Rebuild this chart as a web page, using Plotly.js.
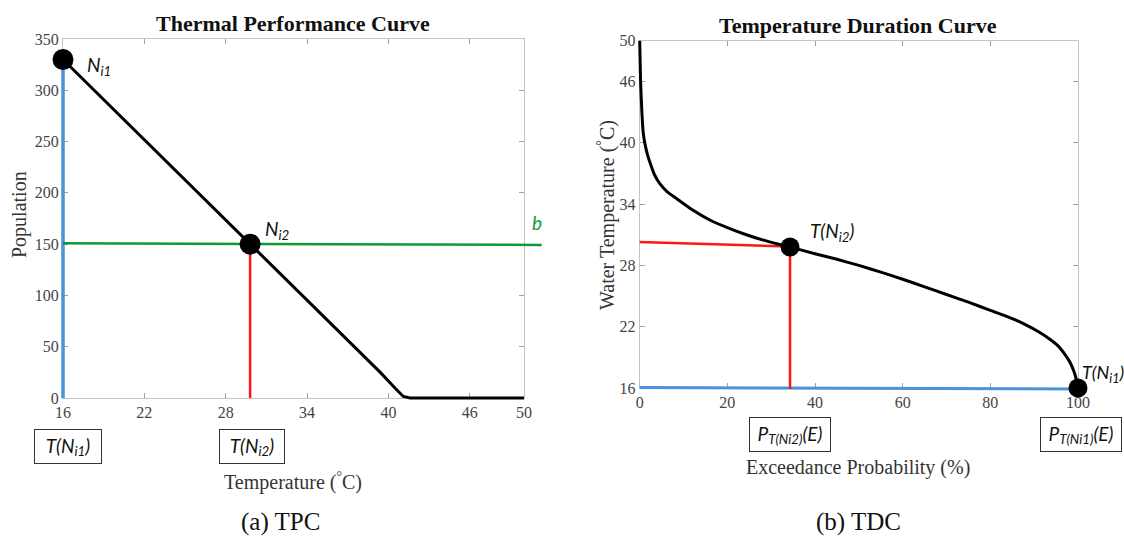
<!DOCTYPE html>
<html><head><meta charset="utf-8">
<script src="https://cdn.plot.ly/plotly-3.0.1.min.js"></script>
<style>html,body{margin:0;padding:0;background:#fff}#chart{width:1124px;height:537px}</style>
</head><body><div id="chart"></div>
<script>
// ---------- Thermal Performance Curve (TPC) data ----------
const tpcTemp = [16, 29.8, 39.4, 40.5, 41.1, 41.6, 50];
const tpcPop  = [330, 150, 25, 9.5, 1.5, 0, 0];
const tpcPointT = [16, 29.8];          // T(Ni1), T(Ni2)
const tpcPointN = [330, 150];          // Ni1, Ni2
const tpcBT = [16, 51.3];              // threshold line b
const tpcBN = [150.8, 149.2];
const tpcXTicks = [16, 22, 28, 34, 40, 46, 50];
const tpcYTicks = [0, 50, 100, 150, 200, 250, 300, 350];

// ---------- Temperature Duration Curve (TDC) data ----------
const tdcProb = [0, 0.2, 0.5, 0.8, 1.2, 1.8, 2.4, 3.4, 4.6, 6.3, 8.4, 12, 16, 20, 24, 28, 34.3, 40, 45, 50, 55, 60, 65, 70, 75, 80, 85, 88, 91, 93.5, 95.5, 97, 98.2, 99.1, 99.7, 100];
const tdcTemp = [50, 46, 43, 41, 39.9, 38.8, 38.0, 36.85, 36.0, 35.2, 34.55, 33.45, 32.45, 31.7, 31.05, 30.5, 29.8, 29.15, 28.6, 28.0, 27.35, 26.65, 25.9, 25.15, 24.4, 23.6, 22.8, 22.2, 21.5, 20.8, 20.1, 19.3, 18.5, 17.6, 16.7, 16];
const tdcPointP = [34.3, 100];         // P_T(Ni2)(E), P_T(Ni1)(E)
const tdcPointT = [29.8, 16];          // T(Ni2), T(Ni1)
const tdcRefP = [0, 34.3];             // red reading line
const tdcRefT = [30.3, 29.85];
const tdcBaseP = [0, 100];             // blue base line
const tdcBaseT = [16.05, 15.9];
const tdcXTicks = [0, 20, 40, 60, 80, 100];
const tdcYTicks = [16, 22, 28, 34, 40, 46, 50];

// ---------- geometry helpers ----------
const W = 1124, H = 537;
const PX = v => v / W;
const PY = v => 1 - v / H;
function xDom(p0, p1, r0, r1, q0, q1) { const s = (p1 - p0) / (r1 - r0); return [PX(p0 + (q0 - r0) * s), PX(p0 + (q1 - r0) * s)]; }
function yDom(p0, p1, r0, r1, q0, q1) { const s = (p1 - p0) / (r1 - r0); return [PY(p0 + (q0 - r0) * s), PY(p0 + (q1 - r0) * s)]; }

const SERIF = 'Liberation Serif, Times New Roman, serif';
const SANS = 'Lato, Carlito, Open Sans, sans-serif';
const BLACK = '#000000', BLUE = '#4a93d6', RED = '#ff1414', GREEN = '#0f9a3a';

// left plot pixel frame
const L = {x0: 63, x1: 524, y0: 398, y1: 39};
// right plot pixel frame
const R = {x0: 639.7, x1: 1078, y0: 388, y1: 40.7};

const frameAxis = (extra) => Object.assign({
  showgrid: false, zeroline: false, showline: true, mirror: 'ticks',
  linecolor: '#c4c4c4', linewidth: 1, ticks: 'inside', ticklen: 5, tickwidth: 1,
  tickcolor: '#a0a0a0', tickmode: 'array', fixedrange: true,
  tickfont: {family: SERIF, size: 16, color: '#444'}
}, extra);
const hiddenAxis = (extra) => Object.assign({
  visible: false, showgrid: false, zeroline: false, fixedrange: true
}, extra);

const traces = [
  // empty traces so the framed axes exist
  {x: [], y: [], xaxis: 'x', yaxis: 'y', type: 'scatter', hoverinfo: 'skip'},
  {x: [], y: [], xaxis: 'x2', yaxis: 'y2', type: 'scatter', hoverinfo: 'skip'},
  // TPC
  {x: [tpcPointT[0], tpcPointT[0]], y: [0, tpcPointN[0]], xaxis: 'x3', yaxis: 'y3', mode: 'lines', line: {color: BLUE, width: 3.5}},
  {x: [tpcPointT[1], tpcPointT[1]], y: [0, tpcPointN[1]], xaxis: 'x3', yaxis: 'y3', mode: 'lines', line: {color: RED, width: 2.5}},
  {x: tpcBT, y: tpcBN, xaxis: 'x3', yaxis: 'y3', mode: 'lines', line: {color: GREEN, width: 2.5}},
  {x: tpcTemp, y: tpcPop, xaxis: 'x3', yaxis: 'y3', mode: 'lines', line: {color: BLACK, width: 3}},
  {x: tpcPointT, y: tpcPointN, xaxis: 'x3', yaxis: 'y3', mode: 'markers', cliponaxis: false, marker: {color: BLACK, size: 21}},
  // TDC
  {x: tdcBaseP, y: tdcBaseT, xaxis: 'x4', yaxis: 'y4', mode: 'lines', line: {color: BLUE, width: 3}},
  {x: tdcRefP, y: tdcRefT, xaxis: 'x4', yaxis: 'y4', mode: 'lines', line: {color: RED, width: 2.5}},
  {x: [tdcPointP[0], tdcPointP[0]], y: [tdcPointT[0], tdcBaseT[1]], xaxis: 'x4', yaxis: 'y4', mode: 'lines', line: {color: RED, width: 2.5}},
  {x: tdcProb, y: tdcTemp, xaxis: 'x4', yaxis: 'y4', mode: 'lines', line: {color: BLACK, width: 3, shape: 'spline', smoothing: 0.5}},
  {x: tdcPointP, y: tdcPointT, xaxis: 'x4', yaxis: 'y4', mode: 'markers', cliponaxis: false, marker: {color: BLACK, size: 19}}
];
traces.forEach(t => { t.showlegend = false; t.hoverinfo = 'skip'; if (!t.type) t.type = 'scatter'; });

const ann = [];
const txt = (o) => ann.push(Object.assign({showarrow: false, xanchor: 'center', yanchor: 'middle'}, o));

// titles
txt({text: '<b>Thermal Performance Curve</b>', xref: 'paper', yref: 'paper', x: PX(293), y: PY(24), font: {family: SERIF, size: 22, color: '#111'}});
txt({text: '<b>Temperature Duration Curve</b>', xref: 'paper', yref: 'paper', x: PX(858), y: PY(26), font: {family: SERIF, size: 22, color: '#111'}});
// axis titles
txt({text: 'Population', xref: 'paper', yref: 'paper', x: PX(19), y: PY(215), textangle: -90, font: {family: SERIF, size: 20, color: '#333'}});
txt({text: 'Temperature (<sup>°</sup>C)', xref: 'paper', yref: 'paper', x: PX(293), y: PY(481), font: {family: SERIF, size: 20, color: '#333'}});
txt({text: 'Water Temperature (<sup>°</sup>C)', xref: 'paper', yref: 'paper', x: PX(606), y: PY(215), textangle: -90, font: {family: SERIF, size: 20, color: '#333'}});
txt({text: 'Exceedance Probability (%)', xref: 'paper', yref: 'paper', x: PX(858), y: PY(467), font: {family: SERIF, size: 20, color: '#333'}});
// captions
txt({text: '(a) TPC', xref: 'paper', yref: 'paper', x: PX(280), y: PY(522), font: {family: SERIF, size: 25, color: '#111'}});
txt({text: '(b) TDC', xref: 'paper', yref: 'paper', x: PX(858), y: PY(522), font: {family: SERIF, size: 25, color: '#111'}});
// point labels
const lab = {family: SANS, size: 19, color: '#111'};
txt({text: '<i>N<sub>i1</sub></i>', xref: 'x', yref: 'y', x: tpcPointT[0], y: tpcPointN[0], xanchor: 'left', xshift: 22, yshift: -6, font: lab});
txt({text: '<i>N<sub>i2</sub></i>', xref: 'x', yref: 'y', x: tpcPointT[1], y: tpcPointN[1], xanchor: 'left', xshift: 13, yshift: 14, font: lab});
txt({text: '<i>b</i>', xref: 'x', yref: 'y', x: tpcXTicks[tpcXTicks.length - 1], y: tpcBN[1], xshift: 13, yshift: 22, font: {family: SANS, size: 19, color: GREEN}});
txt({text: '<i>T(N<sub>i2</sub>)</i>', xref: 'x2', yref: 'y2', x: tdcPointP[0], y: tdcPointT[0], xanchor: 'left', xshift: 18, yshift: 15, font: lab});
txt({text: '<i>T(N<sub>i1</sub>)</i>', xref: 'x2', yref: 'y2', x: tdcPointP[1], y: tdcPointT[1], xanchor: 'left', xshift: 2, yshift: 15, font: {family: SANS, size: 18, color: '#111'}});
// boxed labels
const box = {showarrow: false, xanchor: 'center', yanchor: 'middle', bordercolor: '#333', borderwidth: 1, borderpad: 5, bgcolor: '#fff', font: lab, height: 23};
ann.push(Object.assign({}, box, {text: '<i>T(N<sub>i1</sub>)</i>', xref: 'x', yref: 'paper', x: tpcPointT[0], xshift: 5, y: PY(446), width: 56}));
ann.push(Object.assign({}, box, {text: '<i>T(N<sub>i2</sub>)</i>', xref: 'x', yref: 'paper', x: tpcPointT[1], xshift: 2, y: PY(446), width: 54}));
ann.push(Object.assign({}, box, {text: '<i>P<sub>T(Ni2)</sub>(E)</i>', xref: 'x2', yref: 'paper', x: tdcPointP[0], y: PY(434), width: 70}));
ann.push(Object.assign({}, box, {text: '<i>P<sub>T(Ni1)</sub>(E)</i>', xref: 'x2', yref: 'paper', x: tdcPointP[1], xshift: 3, y: PY(434), width: 70}));

const layout = {
  width: W, height: H,
  margin: {l: 0, r: 0, t: 0, b: 0, pad: 0},
  paper_bgcolor: '#ffffff', plot_bgcolor: 'rgba(0,0,0,0)',
  showlegend: false, hovermode: false,
  // left framed axes
  xaxis: frameAxis({domain: [PX(L.x0), PX(L.x1)], range: [16, 50], tickvals: tpcXTicks, ticktext: tpcXTicks.map(String), anchor: 'y'}),
  yaxis: frameAxis({domain: [PY(L.y0), PY(L.y1)], range: [0, 350], tickvals: tpcYTicks, ticktext: tpcYTicks.map(String), anchor: 'x'}),
  // right framed axes
  xaxis2: frameAxis({domain: [PX(R.x0), PX(R.x1)], range: [0, 100], tickvals: tdcXTicks, ticktext: tdcXTicks.map(String), anchor: 'y2'}),
  yaxis2: frameAxis({domain: [PY(R.y0), PY(R.y1)], range: [16, 50], tickvals: tdcYTicks, ticktext: tdcYTicks.map(String), anchor: 'x2'}),
  // unclipped drawing layers (same scales, wider range)
  xaxis3: hiddenAxis({domain: xDom(L.x0, L.x1, 16, 50, 15.5, 52), range: [15.5, 52], anchor: 'y3'}),
  yaxis3: hiddenAxis({domain: yDom(L.y0, L.y1, 0, 350, -6, 356), range: [-6, 356], anchor: 'x3'}),
  xaxis4: hiddenAxis({domain: xDom(R.x0, R.x1, 0, 100, -2, 102), range: [-2, 102], anchor: 'y4'}),
  yaxis4: hiddenAxis({domain: yDom(R.y0, R.y1, 16, 50, 15, 51), range: [15, 51], anchor: 'x4'}),
  annotations: ann
};

Plotly.newPlot('chart', traces, layout, {staticPlot: true, displayModeBar: false});
</script>
</body></html>
